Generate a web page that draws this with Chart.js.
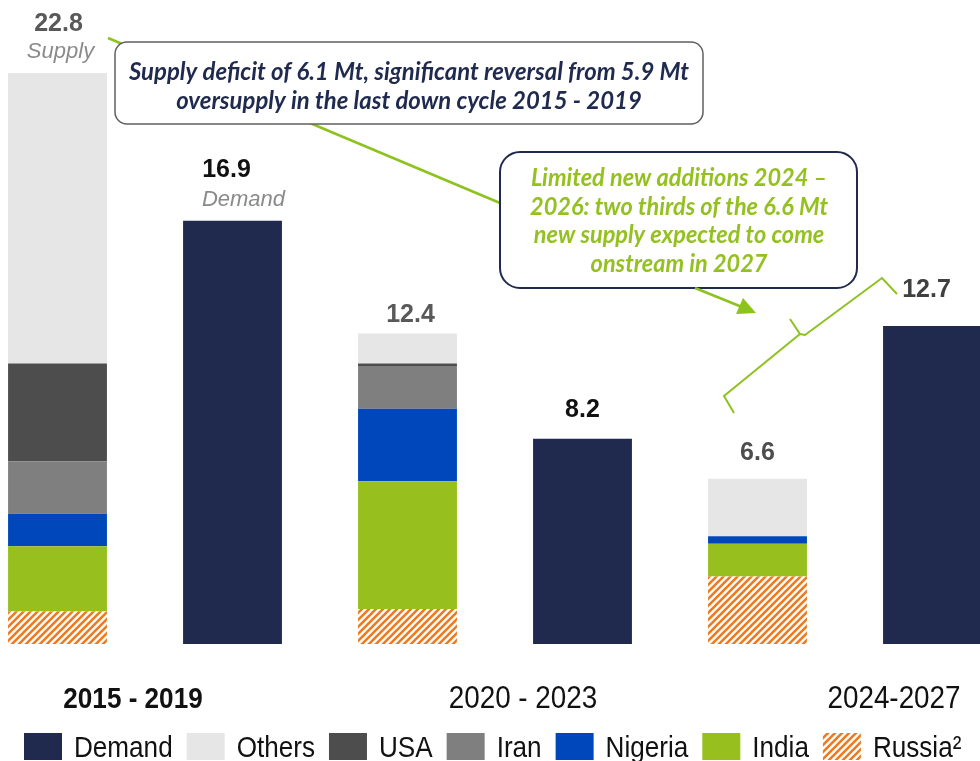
<!DOCTYPE html>
<html>
<head>
<meta charset="utf-8">
<script src="https://cdn.jsdelivr.net/npm/chart.js@4.4.1/dist/chart.umd.min.js"></script>
<style>
  html, body { margin: 0; padding: 0; background: #fff; overflow: hidden; }
  #wrap { position: relative; width: 980px; height: 761px; overflow: hidden; }
  #chart { position: absolute; left: -30px; top: 0; }
</style>
</head>
<body>
<div id="wrap"><canvas id="chart" width="1050" height="761"></canvas></div>
<script>
// data, Mt
const barLabels = ['Supply 2015-2019', 'Demand 2015-2019', 'Supply 2020-2023', 'Demand 2020-2023', 'Supply 2024-2027', 'Demand 2024-2027']
const periods = ['2015 - 2019', '2020 - 2023', '2024-2027']

const demand  = [null, 16.9, null, 8.2, null, 12.7]
const others  = [11.6, null, 1.2, null, 2.3, null]
const usa     = [3.9,  null, 0.1, null, 0,   null]
const iran    = [2.1,  null, 1.7, null, 0,   null]
const nigeria = [1.3,  null, 2.9, null, 0.3, null]
const india   = [2.6,  null, 5.1, null, 1.3, null]
const russia  = [1.3,  null, 1.4, null, 2.7, null]

const captions = ['Supply', 'Demand', '', '', '', '']

const OFF = 30 // canvas sits 30px left of the page edge

// orange hatch for Russia
function makeHatch() {
  const s = 7
  const c = document.createElement('canvas')
  c.width = s
  c.height = s
  const g = c.getContext('2d')
  g.fillStyle = '#fff'
  g.fillRect(0, 0, s, s)
  g.strokeStyle = '#F07A1E'
  g.lineWidth = 2.6
  g.beginPath()
  g.moveTo(0, s); g.lineTo(s, 0)
  g.moveTo(-1, 1); g.lineTo(1, -1)
  g.moveTo(s - 1, s + 1); g.lineTo(s + 1, s - 1)
  g.stroke()
  return g.createPattern(c, 'repeat')
}
const ctx0 = document.getElementById('chart').getContext('2d')
const hatch = makeHatch()

function narrowText(ctx, txt, x, y, sx, align) {
  ctx.save()
  ctx.translate(x, y)
  ctx.scale(sx, 1)
  ctx.textAlign = align || 'left'
  ctx.fillText(txt, 0, 0)
  ctx.restore()
}

// text block squeezed so its widest line has the given width
function textBlock(ctx, lines, cx, y0, lh, font, color, widest) {
  ctx.font = font
  ctx.fillStyle = color
  let w = 0
  lines.forEach(l => { w = Math.max(w, ctx.measureText(l).width) })
  const sx = widest / w
  lines.forEach((l, i) => narrowText(ctx, l, cx, y0 + i * lh, sx, 'center'))
}

const labelColors = ['#595959', '#111111', '#595959', '#111111', '#4d4d4d', '#404040']
const labelLift = [42, 44, 12, 22, 19, 29]
const labelShift = [1, -6, 3, 0, 0, -6]
const periodShift = [-12, 28, 49]
const periodFont = ['bold 30px "Liberation Sans", Arial', '32px "Liberation Sans", Arial', '32px "Liberation Sans", Arial']

const overlay = {
  id: 'overlay',
  afterDraw(chart) {
    const { ctx, scales: { x, y } } = chart
    ctx.save()
    ctx.translate(OFF, 0)
    const px = i => x.getPixelForValue(i) - OFF

    // totals above bars
    chart.data.labels.forEach((lab, i) => {
      let tot = 0
      chart.data.datasets.forEach(d => { tot += d.data[i] || 0 })
      const top = y.getPixelForValue(tot)
      ctx.fillStyle = labelColors[i]
      ctx.font = 'bold 25px "Liberation Sans", Arial'
      ctx.textAlign = 'center'
      ctx.fillText(tot.toFixed(1), px(i) + labelShift[i], top - labelLift[i])
      if (captions[i]) {
        ctx.fillStyle = '#8a8a8a'
        ctx.font = 'italic 22px "Liberation Sans", Arial'
        ctx.fillText(captions[i], px(i) + (i === 1 ? 11 : 3), top - 15)
      }
    })

    // period labels
    periods.forEach((p, k) => {
      const cx = (px(2 * k) + px(2 * k + 1)) / 2 + periodShift[k]
      ctx.fillStyle = '#111'
      ctx.font = periodFont[k]
      narrowText(ctx, p, cx, 708, 0.87, 'center')
    })

    // legend
    const order = ['Demand', 'Others', 'USA', 'Iran', 'Nigeria', 'India', 'Russia²']
    let lx = 24
    order.forEach(name => {
      const ds = chart.data.datasets.find(d => d.label === name)
      ctx.fillStyle = ds.backgroundColor
      ctx.fillRect(lx, 733, 38, 27)
      ctx.fillStyle = '#111'
      ctx.font = '30px "Liberation Sans", Arial'
      const w = ctx.measureText(name).width * 0.87
      narrowText(ctx, name, lx + 50, 757, 0.87)
      lx += 50 + w + 14
    })

    // green connector behind the first callout
    const green = '#8DC21F'
    ctx.strokeStyle = green
    ctx.lineWidth = 2.5
    ctx.beginPath()
    ctx.moveTo(108, 38)
    ctx.lineTo(500, 203)
    ctx.stroke()

    // callout 1
    ctx.beginPath()
    ctx.roundRect(115, 42, 588, 82, 12)
    ctx.fillStyle = '#fff'
    ctx.fill()
    ctx.strokeStyle = '#606060'
    ctx.lineWidth = 1.5
    ctx.stroke()
    textBlock(ctx, ['Supply deficit of 6.1 Mt, significant reversal from 5.9 Mt',
      'oversupply in the last down cycle 2015 - 2019'],
      409, 80, 29, 'italic bold 24px Lato, "Open Sans", sans-serif', '#1F2A4E', 560)

    // callout 2
    ctx.beginPath()
    ctx.roundRect(500, 152, 357, 136, 20)
    ctx.fillStyle = '#fff'
    ctx.fill()
    ctx.strokeStyle = '#1F2A4E'
    ctx.lineWidth = 2
    ctx.stroke()
    textBlock(ctx, ['Limited new additions 2024 –', '2026: two thirds of the 6.6 Mt',
      'new supply expected to come', 'onstream in 2027'],
      679, 186, 28.5, 'italic bold 24px Lato, "Open Sans", sans-serif', '#94C11F', 298)

    // arrow
    ctx.strokeStyle = green
    ctx.fillStyle = green
    ctx.lineWidth = 2.5
    ctx.beginPath()
    ctx.moveTo(695, 288)
    ctx.lineTo(742, 307)
    ctx.stroke()
    ctx.beginPath()
    ctx.moveTo(756, 313)
    ctx.lineTo(736, 314)
    ctx.lineTo(743, 298)
    ctx.closePath()
    ctx.fill()

    // brace
    ctx.lineWidth = 2
    ctx.beginPath()
    ctx.moveTo(790, 319)
    ctx.lineTo(800, 334)
    ctx.lineTo(805, 335)
    ctx.lineTo(882, 278)
    ctx.lineTo(897, 294)
    ctx.moveTo(800, 334)
    ctx.lineTo(724, 396)
    ctx.lineTo(734, 413)
    ctx.stroke()

    ctx.restore()
  }
}

const chart = new Chart(ctx0, {
  type: 'bar',
  data: {
    labels: barLabels,
    datasets: [
      { label: 'Russia²', data: russia,  backgroundColor: hatch },
      { label: 'India',   data: india,   backgroundColor: '#97BF1E' },
      { label: 'Nigeria', data: nigeria, backgroundColor: '#0047BB' },
      { label: 'Iran',    data: iran,    backgroundColor: '#7F7F7F' },
      { label: 'USA',     data: usa,     backgroundColor: '#4D4D4D' },
      { label: 'Others',  data: others,  backgroundColor: '#E6E6E6' },
      { label: 'Demand',  data: demand,  backgroundColor: '#1F2A4E' }
    ]
  },
  options: {
    responsive: false,
    animation: false,
    devicePixelRatio: 1,
    layout: { padding: { top: 0, bottom: 117, left: 0, right: 0 } },
    datasets: { bar: { categoryPercentage: 1, barPercentage: 0.565, borderWidth: 0 } },
    scales: {
      x: { stacked: true, display: false },
      y: { stacked: true, display: false, min: 0, max: 25.72 }
    },
    plugins: { legend: { display: false }, tooltip: { enabled: false } }
  },
  plugins: [overlay]
})
</script>
</body>
</html>
